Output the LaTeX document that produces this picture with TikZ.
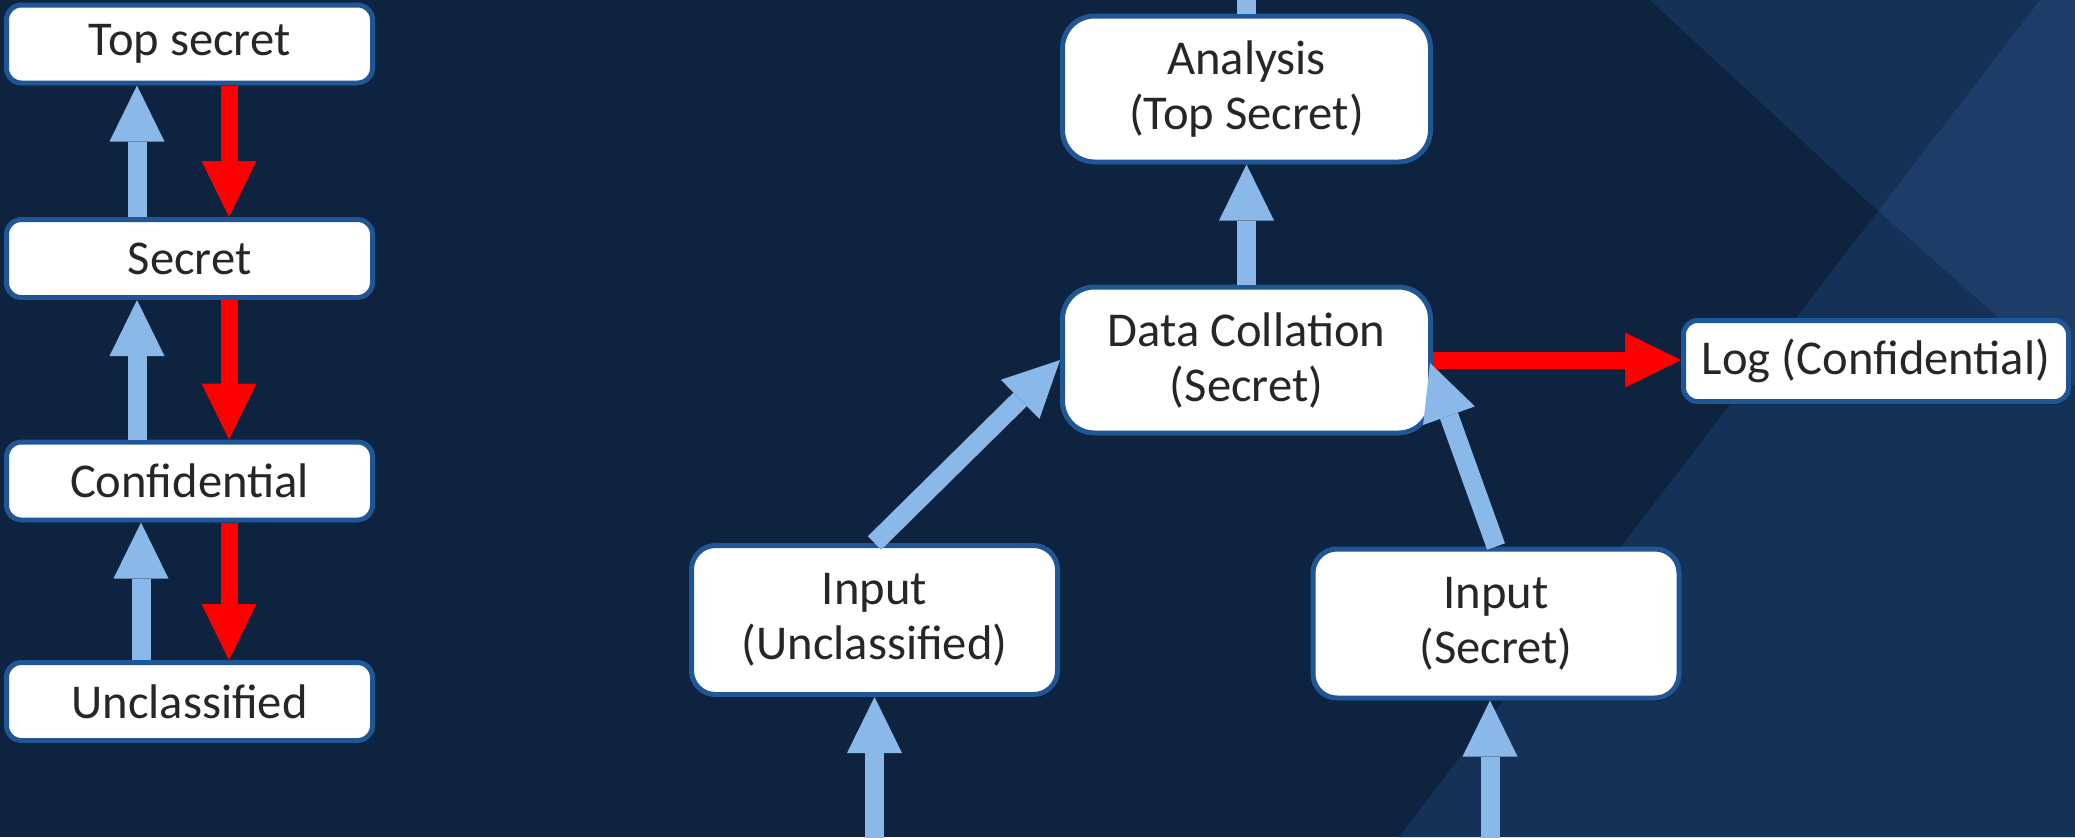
\documentclass[tikz,border=0pt]{standalone}
\usepackage{fontspec}
\setmainfont{Carlito}
\usetikzlibrary{arrows.meta,shadows}
\definecolor{bgA}{RGB}{14,35,63}
\definecolor{bgB}{RGB}{22,49,86}
\definecolor{bgC}{RGB}{29,60,103}
\definecolor{bgD}{RGB}{22,49,87}
\definecolor{boxborder}{RGB}{31,87,150}
\definecolor{textc}{RGB}{38,38,38}
\definecolor{arrowblue}{RGB}{138,184,232}
\definecolor{arrowred}{RGB}{255,0,0}
\tikzset{
  box/.style={draw=boxborder, line width=2.5pt, fill=white, text=textc,
    font=\fontsize{24.3}{27.5}\selectfont, align=center, inner sep=0pt,
    drop shadow={shadow xshift=0.6pt, shadow yshift=-1.6pt, opacity=0.45, fill=black}},
  levelbox/.style={box, minimum width=183pt, minimum height=39pt, rounded corners=7.5pt},
  bigbox/.style={box, minimum width=184pt, minimum height=73pt, rounded corners=16pt},
  inbox/.style={box, minimum width=183pt, minimum height=74.5pt, rounded corners=12pt},
  logbox/.style={box, minimum width=192.5pt, minimum height=40.5pt, rounded corners=7pt},
  uparrow/.style={draw=arrowblue, line width=9.5pt,
    -{Triangle[width=27.5pt, length=28pt, line width=0pt]}},
  redarrow/.style={draw=arrowred, line width=8.5pt,
    -{Triangle[width=27.5pt, length=28pt, line width=0pt]}},
}
\begin{document}
\begin{tikzpicture}[x=0.5pt, y=-0.5pt]
\useasboundingbox (0,0) rectangle (2075,837);
\clip (0,0) rectangle (2075,837);
% background
\fill[bgA] (0,0) rectangle (2075,837);
\fill[bgB] (1650,0) -- (2040,0) -- (1878,211) -- cycle;
\fill[bgC] (2040,0) -- (2075,0) -- (2075,386) -- (1878,211) -- cycle;
\fill[bgD] (1878,211) -- (2075,386) -- (2075,837) -- (1399,837) -- cycle;

% left column
\node[levelbox] (top) at (189.5,44) {Top secret};
\node[levelbox] (sec) at (189.5,258.5) {Secret};
\node[levelbox] (conf) at (189.5,481) {Confidential};
\node[levelbox] (uncl) at (189.5,701.5) {Unclassified};

\draw[uparrow] ([xshift=-26.25pt]sec.north) -- ([xshift=-26.25pt]top.south);
\draw[redarrow] ([xshift=19.75pt]top.south) -- ([xshift=19.75pt]sec.north);
\draw[uparrow] ([xshift=-26.25pt]conf.north) -- ([xshift=-26.25pt]sec.south);
\draw[redarrow] ([xshift=19.75pt]sec.south) -- ([xshift=19.75pt]conf.north);
\draw[uparrow] ([xshift=-24.25pt]uncl.north) -- ([xshift=-24.25pt]conf.south);
\draw[redarrow] ([xshift=19.75pt]conf.south) -- ([xshift=19.75pt]uncl.north);

% flow diagram
\node[bigbox] (an) at (1246.5,89) {Analysis\\(Top Secret)};
\node[bigbox] (dc) at (1246.5,360) {Data Collation\\(Secret)};
\node[logbox] (log) at (1876,361) {Log (Confidential)};
\node[inbox] (iu) at (874.5,620) {Input\\(Unclassified)};
\node[inbox] (is) at (1496,623.5) {Input\\(Secret)};

\coordinate (anout) at (1246.5,-20);
\coordinate (iuin) at (874.5,860);
\coordinate (isin) at (1490,860);

\draw[draw=arrowblue, line width=9.5pt] (an.north) -- (anout);
\draw[uparrow] (dc.north) -- (an.south);
\draw[uparrow] (iu.north) -- (dc.west);
\draw[redarrow] (dc.east) -- (dc.east -| log.west);
\draw[uparrow] (is.north) -- ([xshift=-1.5pt,yshift=-1.5pt]dc.east);
\draw[uparrow] (iuin) -- (iuin |- iu.south);
\draw[uparrow] (isin) -- (isin |- is.south);
\end{tikzpicture}
\end{document}
